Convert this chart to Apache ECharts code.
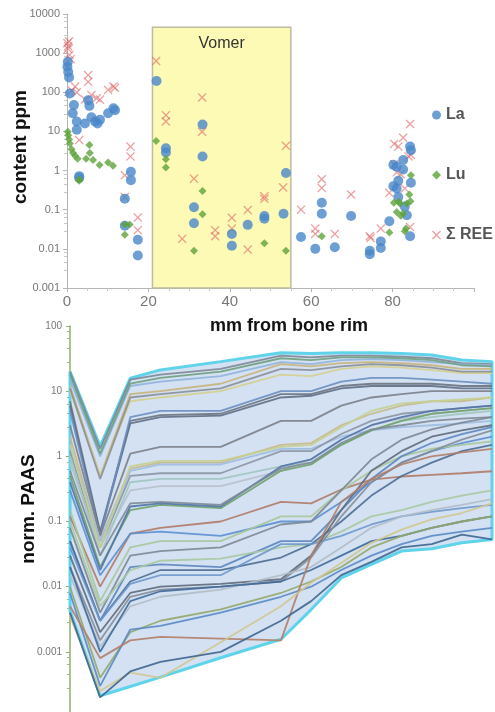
<!DOCTYPE html>
<html>
<head>
<meta charset="utf-8">
<script src="https://cdn.jsdelivr.net/npm/echarts@6/dist/echarts.min.js"></script>
<style>
  html, body { margin: 0; padding: 0; background: #fff; }
  #main { width: 495px; height: 712px; }
</style>
</head>
<body>
<div id="main"></div>
<script>
// top chart: content (ppm) vs mm from bone rim
const laPoints = [
  [0.2, 600], [0.1, 450], [0.3, 330], [0.5, 240], [0.7, 93], [1.7, 47], [1.4, 29], [2.4, 18], [2.4, 11],
  [4.4, 16], [5.2, 63], [5.5, 45], [6, 23], [6.9, 18], [8.1, 20], [10.1, 29], [11.4, 39], [11.8, 35], [7.5, 16],
  [3, 0.72], [3, 0.65], [14.2, 0.19], [15.7, 0.93], [15.7, 0.57], [14.2, 0.039], [17.4, 0.017], [17.4, 0.0068],
  [22, 195], [24.3, 3.7], [24.3, 2.9], [33.3, 15], [33.3, 2.3], [31.2, 0.115], [31.2, 0.045], [40.5, 0.024],
  [40.5, 0.012], [44.4, 0.041], [48.5, 0.069], [48.5, 0.059], [53.2, 0.079], [53.8, 0.87],
  [57.5, 0.02], [61, 0.01], [62.6, 0.15], [62.6, 0.079], [65.8, 0.011], [69.8, 0.069], [74.4, 0.0089],
  [74.4, 0.0073], [77.1, 0.0155], [77.1, 0.0105], [79.2, 0.051],
  [80.2, 1.4], [81, 1.25], [82.6, 1.07], [80.2, 0.4], [81, 0.35], [81.4, 0.55], [81.4, 0.21], [83, 0.12],
  [83.5, 0.072], [84.3, 0.021], [84.5, 0.49], [84.3, 4.1], [84.5, 3.3], [82.6, 1.87]
]
const luPoints = [
  [0.2, 9.8], [0.3, 8], [0.5, 6.3], [0.7, 4.9], [1.1, 3.5], [1.5, 2.8], [2, 2.4], [2.6, 2], [3, 0.6], [3, 0.55],
  [5.5, 4.5], [5.6, 2.8], [4.7, 2.0], [6.4, 1.86], [8, 1.38], [10.1, 1.6], [11.3, 1.33], [14.2, 0.042],
  [15.4, 0.042], [14.2, 0.023],
  [21.9, 5.7], [24.3, 1.95], [24.3, 1.2], [33.3, 0.3], [33.3, 0.077], [31.2, 0.009], [48.5, 0.014], [53.8, 0.009],
  [62.6, 0.021], [79.2, 0.026], [80.3, 0.15], [81, 0.087], [81.8, 0.144], [82.6, 0.08], [83.5, 0.144],
  [84.1, 0.245], [84.4, 0.165], [84.5, 0.76], [83.3, 0.033], [83, 0.028], [81.5, 0.16], [82, 0.07]
]
const reePoints = [
  [0.1, 1800], [0.3, 1500], [0.5, 2000], [0.2, 1300], [0.6, 900], [0.9, 700], [2, 140], [2.4, 100], [3, 6],
  [5.2, 275], [5.2, 185], [4.4, 65], [6, 85], [7.3, 70], [8.1, 65], [10.1, 115], [11.4, 140], [11.8, 130],
  [1.2, 110], [15.6, 4.1], [15.6, 2.3], [14.2, 0.76], [14.2, 0.21], [17.4, 0.063], [17.4, 0.03],
  [21.9, 630], [24.3, 26], [24.3, 18], [33.2, 74], [33.2, 9.8], [28.3, 0.018], [31.2, 0.62], [36.4, 0.03],
  [36.4, 0.021], [40.5, 0.062], [40.5, 0.033], [44.4, 0.098], [44.4, 0.0096], [48.5, 0.22], [48.5, 0.19],
  [53.1, 0.37], [53.8, 4.3],
  [57.5, 0.1], [61, 0.033], [61, 0.024], [62.6, 0.6], [62.6, 0.36], [65.8, 0.024], [69.8, 0.245],
  [74.4, 0.021], [74.6, 0.019], [77.1, 0.033], [79.2, 0.27], [80.4, 1.45], [80.4, 4.8], [81.4, 4.1],
  [82.6, 6.9], [83.9, 2.3], [84.3, 15.5], [83, 0.35], [84.3, 0.036], [82, 0.8], [84.5, 2.5], [81, 0.9]
]
const vomerRange = [21, 55]
const topYLabels = ['0.001', '0.01', '0.1', '1', '10', '100', '1000', '10000']

// bottom chart: PAAS normalised patterns
const xPos = [0, 1, 2, 3, 5, 7, 8, 9, 10, 11, 12, 13, 14]
const envUpper = [20, 1.42, 15.8, 21.2, 28.4, 39, 38, 39, 39, 38, 36, 30, 28.4]
const envLower = [0.00425, 0.000212, 0.000294, 0.000409, 0.00081, 0.00156, 0.00445, 0.0136, 0.022, 0.0352, 0.0382, 0.0471, 0.053]
const paasRows = [
  [20, 1.3, 15, 18, 22, 35, 33, 35, 35, 34, 32, 27, 26],
  [15, 1.0, 12, 14, 17, 28, 26, 30, 31, 30, 28, 26, 25],
  [18, 1.1, 13, 16, 20, 32, 30, 33, 33, 32, 30, 25, 24],
  [12, 0.5, 9, 10, 13, 26, 24, 27, 28, 27, 25, 22, 22],
  [10, 0.5, 7, 8, 10, 18, 17, 22, 24, 23, 21, 19, 19],
  [11, 0.45, 8, 9, 11, 22, 21, 24, 26, 25, 23, 20, 20],
  [7, 0.07, 3.5, 4.3, 4.5, 9, 9, 12, 13, 13, 13, 12, 12],
  [6, 0.065, 3.2, 4, 4.2, 8, 8.5, 11, 12, 12, 12, 11, 11],
  [5, 0.06, 4, 5, 5, 10, 10, 14, 16, 16, 15, 14, 13],
  [3, 0.06, 1.1, 1.4, 1.4, 3.5, 3.5, 6, 8, 9, 10, 10, 10],
  [2, 0.05, 0.65, 0.8, 0.8, 1.5, 1.6, 3, 4.5, 6, 7, 7, 8],
  [1.5, 0.05, 0.6, 0.75, 0.75, 1.3, 1.3, 2, 2.5, 2.8, 3, 3.2, 3.5],
  [1.2, 0.04, 0.5, 0.55, 0.55, 1.2, 1.2, 2.2, 3.5, 4.5, 5, 5.5, 6],
  [0.8, 0.04, 0.3, 0.35, 0.35, 0.6, 0.9, 1.8, 3, 3.8, 4.5, 5, 5.5],
  [1, 0.03, 0.4, 0.45, 0.45, 0.7, 0.8, 1.5, 2.5, 3.5, 4, 4.5, 5],
  [1.5, 0.04, 0.7, 0.85, 0.85, 1.4, 1.5, 2.8, 5, 6.5, 7, 7.5, 8],
  [0.5, 0.02, 0.15, 0.18, 0.16, 0.6, 0.75, 1.5, 2.5, 3.5, 4.5, 5, 5.5],
  [0.4, 0.018, 0.17, 0.19, 0.17, 0.7, 0.9, 1.8, 3, 4, 5, 5.5, 6],
  [0.6, 0.03, 0.19, 0.2, 0.18, 0.65, 0.8, 1.6, 2.6, 3, 3.5, 3.8, 4],
  [0.12, 0.01, 0.065, 0.08, 0.1, 0.2, 0.19, 0.31, 0.44, 0.49, 0.52, 0.55, 0.59],
  [0.3, 0.015, 0.065, 0.07, 0.06, 0.1, 0.1, 0.2, 0.4, 0.8, 1.2, 1.6, 2],
  [0.15, 0.006, 0.04, 0.05, 0.05, 0.12, 0.12, 0.3, 0.6, 1, 1.3, 1.5, 1.7],
  [0.08, 0.004, 0.03, 0.035, 0.04, 0.09, 0.1, 0.3, 0.9, 1.8, 2.6, 3.3, 4],
  [0.05, 0.003, 0.02, 0.022, 0.02, 0.05, 0.05, 0.15, 0.45, 1, 1.6, 2.2, 2.8],
  [0.1, 0.005, 0.018, 0.025, 0.027, 0.04, 0.045, 0.07, 0.12, 0.15, 0.2, 0.25, 0.3],
  [0.05, 0.003, 0.012, 0.018, 0.018, 0.028, 0.045, 0.1, 0.25, 0.5, 0.8, 1.2, 1.5],
  [0.04, 0.003, 0.011, 0.015, 0.015, 0.045, 0.045, 0.06, 0.09, 0.12, 0.14, 0.16, 0.18],
  [0.03, 0.002, 0.008, 0.01, 0.011, 0.013, 0.03, 0.15, 0.6, 1.2, 2, 2.5, 3],
  [0.02, 0.0015, 0.007, 0.009, 0.01, 0.012, 0.028, 0.12, 0.4, 0.8, 1.2, 1.8, 2.5],
  [0.015, 0.0012, 0.005, 0.007, 0.009, 0.015, 0.02, 0.04, 0.08, 0.12, 0.15, 0.18, 0.22],
  [0.02, 0.001, 0.006, 0.0085, 0.01, 0.012, 0.018, 0.03, 0.05, 0.06, 0.08, 0.1, 0.12],
  [0.01, 0.0004, 0.002, 0.003, 0.0045, 0.008, 0.012, 0.02, 0.04, 0.06, 0.08, 0.1, 0.12],
  [0.008, 0.0003, 0.0022, 0.0025, 0.004, 0.007, 0.01, 0.018, 0.03, 0.045, 0.06, 0.07, 0.08],
  [0.005, 0.0008, 0.0015, 0.0017, 0.0016, 0.0015, 0.03, 0.2, 0.45, 0.75, 1.0, 1.15, 1.3],
  [0.0035, 0.00025, 0.00048, 0.0004, 0.0014, 0.005, 0.0115, 0.023, 0.047, 0.075, 0.108, 0.135, 0.19],
  [0.004, 0.0002, 0.0005, 0.0007, 0.001, 0.003, 0.006, 0.015, 0.024, 0.04, 0.045, 0.063, 0.053]
]
const paasColors = [
  '#7d8796', '#8fb2dc', '#6f9e7c', '#c9b27a', '#d6cf8e', '#8a8f99', '#6b7280', '#5f6f85', '#6a8fc0',
  '#7b8088', '#c8b98a', '#9cbce0', '#8c95a3', '#b9c0cc', '#9fc7c0', '#c5d090', '#6fa26a', '#4f74a8',
  '#808a96', '#b07a66', '#5b8fd0', '#a7c79a', '#7d8794', '#5c86c0', '#a9c9a0', '#4d6d95', '#6d98cc',
  '#5f6b7a', '#858d98', '#b2bcc8', '#3f6a9a', '#93a86a', '#5a8ac6', '#b27e68', '#d1c78f', '#3d6690'
]
const bottomYLabels = ['0.0001', '0.001', '0.01', '0.1', '1', '10', '100']

const crossPath = 'path://M1,0L5,4L9,0L10,1L6,5L10,9L9,10L5,6L1,10L0,9L4,5L0,1Z'
const font = '"Liberation Sans", Arial, sans-serif'

const chart = echarts.init(document.getElementById('main'), null, { renderer: 'canvas' })

const pair = (vals) => xPos.map((x, i) => [x, vals[i]])

const paasSeries = paasRows.map((row, i) => ({
  type: 'line',
  xAxisIndex: 1,
  yAxisIndex: 1,
  data: pair(row),
  symbol: 'none',
  silent: true,
  z: 4,
  lineStyle: { color: paasColors[i], width: 1.8, opacity: 0.9 }
}))

// closed outline of the envelope
const envOutline = pair(envUpper)
  .concat(pair(envLower).reverse())
  .concat([[xPos[0], envUpper[0]]])

chart.setOption({
  animation: false,
  textStyle: { fontFamily: font },
  grid: [
    { left: 67, right: 21, top: 14, bottom: 424, outerBoundsMode: 'none' },
    { left: 70, right: 3, top: 326, height: 391, outerBoundsMode: 'none' }
  ],
  legend: {
    data: ['La', 'Lu', 'Σ REE'],
    orient: 'vertical',
    left: 427,
    top: 102,
    itemGap: 44,
    itemWidth: 9,
    itemHeight: 9,
    itemStyle: { borderWidth: 0 },
    textStyle: { fontSize: 16, fontWeight: 'bold', color: '#555', fontFamily: font }
  },
  xAxis: [
    {
      type: 'value',
      gridIndex: 0,
      min: 0,
      max: 100,
      interval: 20,
      axisLine: { lineStyle: { color: '#b5b5b5' } },
      axisTick: { show: true, length: 4, lineStyle: { color: '#b5b5b5' } },
      minorTick: { show: true, splitNumber: 4, length: 3, lineStyle: { color: '#c8c8c8' } },
      splitLine: { show: false },
      axisLabel: {
        color: '#777',
        fontSize: 15,
        margin: 6,
        formatter: (v) => (v === 100 ? '' : String(v))
      }
    },
    {
      type: 'value',
      gridIndex: 1,
      min: 0,
      max: 14,
      show: false
    }
  ],
  yAxis: [
    {
      type: 'log',
      gridIndex: 0,
      logBase: 10,
      min: 0.001,
      max: 10000,
      axisLine: { show: true, lineStyle: { color: '#b5b5b5' } },
      axisTick: { show: true, length: 4, lineStyle: { color: '#b5b5b5' } },
      minorTick: { show: true, splitNumber: 5, length: 3, lineStyle: { color: '#c8c8c8' } },
      splitLine: { show: false },
      axisLabel: {
        color: '#777',
        fontSize: 11,
        margin: 7,
        formatter: (v, i) => topYLabels[i]
      }
    },
    {
      type: 'log',
      gridIndex: 1,
      logBase: 10,
      min: 0.0001,
      max: 100,
      axisLine: { show: true, lineStyle: { color: '#8fae6c', width: 1.5 } },
      axisTick: { show: true, length: 4, lineStyle: { color: '#8fae6c' } },
      minorTick: { show: true, splitNumber: 5, length: 3, lineStyle: { color: '#9fbb80' } },
      splitLine: { show: false },
      axisLabel: {
        color: '#777',
        fontSize: 10,
        margin: 8,
        formatter: (v, i) => bottomYLabels[i]
      }
    }
  ],
  graphic: [
    {
      type: 'text', x: 21, y: 147, rotation: Math.PI / 2,
      style: { text: 'content ppm', font: 'bold 19px ' + font, fill: '#111', align: 'center', verticalAlign: 'middle' }
    },
    {
      type: 'text', x: 289, y: 326,
      style: { text: 'mm from bone rim', font: 'bold 18px ' + font, fill: '#111', align: 'center', verticalAlign: 'middle' }
    },
    {
      type: 'text', x: 29, y: 509, rotation: Math.PI / 2,
      style: { text: 'norm. PAAS', font: 'bold 19px ' + font, fill: '#111', align: 'center', verticalAlign: 'middle' }
    }
  ],
  series: [
    {
      name: 'vomer',
      type: 'scatter',
      data: [],
      z: 1,
      markArea: {
        silent: true,
        itemStyle: { color: '#fdfab6', borderColor: '#bdbca2', borderWidth: 1.5 },
        label: { show: true, position: 'insideTop', distance: 9, color: '#333', fontSize: 16, fontFamily: font },
        data: [[{ name: 'Vomer', xAxis: vomerRange[0], yAxis: 4600 }, { xAxis: vomerRange[1], yAxis: 0.001 }]]
      }
    },
    {
      name: 'Σ REE',
      type: 'scatter',
      data: reePoints,
      symbol: crossPath,
      symbolSize: 9,
      z: 3,
      itemStyle: { color: 'rgba(222,96,96,0.75)' }
    },
    {
      name: 'La',
      type: 'scatter',
      data: laPoints,
      symbol: 'circle',
      symbolSize: 10,
      z: 4,
      itemStyle: { color: '#4a87c9' }
    },
    {
      name: 'Lu',
      type: 'scatter',
      data: luPoints,
      symbol: 'diamond',
      symbolSize: 8,
      z: 5,
      itemStyle: { color: '#5ea33a' }
    },
    // envelope fill, drawn as one polygon through the axis scales
    {
      type: 'custom',
      xAxisIndex: 1,
      yAxisIndex: 1,
      data: [[0, 1]],
      silent: true,
      z: 2,
      renderItem: (params, api) => ({
        type: 'polygon',
        shape: { points: envOutline.map((p) => api.coord(p)) },
        style: { fill: '#d3e1f2' }
      })
    },
    {
      type: 'line',
      xAxisIndex: 1,
      yAxisIndex: 1,
      data: envOutline,
      symbol: 'none',
      silent: true,
      lineStyle: { color: '#5fd3ea', width: 3 },
      z: 3
    }
  ].concat(paasSeries)
})
</script>
</body>
</html>
